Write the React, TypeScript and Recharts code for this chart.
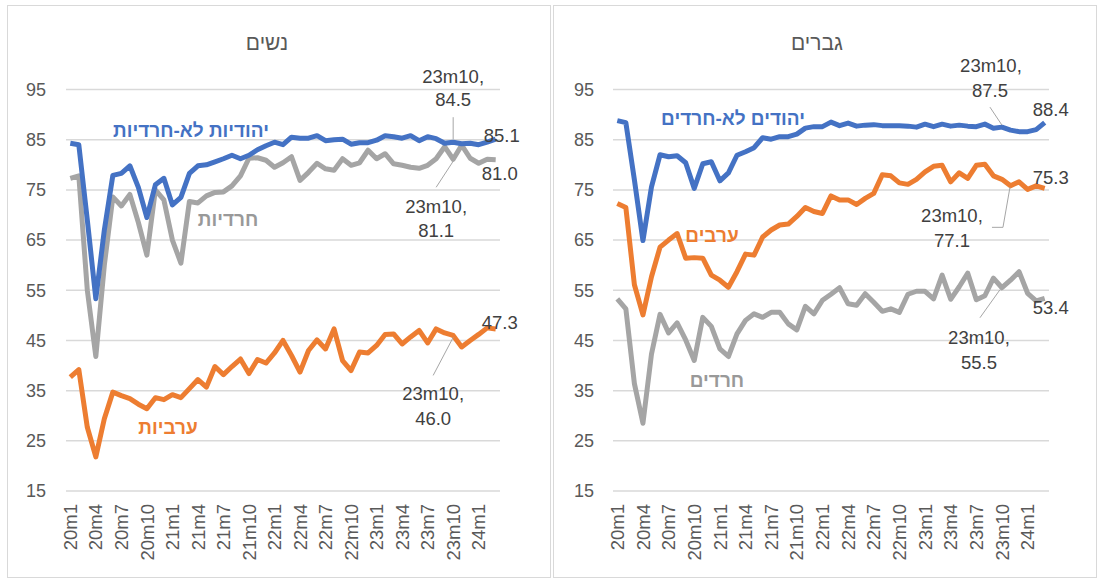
import React from 'react';
import { LineChart, Line, XAxis, YAxis, CartesianGrid, LabelList } from 'recharts';

// monthly categories, 2020m1 .. 2024m3
const categories = [
  '20m1', '20m2', '20m3', '20m4', '20m5', '20m6', '20m7', '20m8', '20m9', '20m10', '20m11', '20m12',
  '21m1', '21m2', '21m3', '21m4', '21m5', '21m6', '21m7', '21m8', '21m9', '21m10', '21m11', '21m12',
  '22m1', '22m2', '22m3', '22m4', '22m5', '22m6', '22m7', '22m8', '22m9', '22m10', '22m11', '22m12',
  '23m1', '23m2', '23m3', '23m4', '23m5', '23m6', '23m7', '23m8', '23m9', '23m10', '23m11', '23m12',
  '24m1', '24m2', '24m3'
];

const yTicks = [15, 25, 35, 45, 55, 65, 75, 85, 95];

// women (נשים)
const womenNonHaredi = [
  84.3, 84.0, 69.0, 53.3, 67.0, 77.9, 78.3, 79.8, 75.5, 69.5, 76.0, 77.3, 72.0, 73.5, 78.3, 79.8, 80.0,
  80.6, 81.2, 81.9, 81.2, 81.9, 83.0, 83.8, 84.5, 84.0, 85.5, 85.3, 85.3, 85.8, 84.8, 85.0, 85.1, 84.1,
  84.4, 84.4, 84.9, 85.8, 85.6, 85.3, 85.8, 84.8, 85.6, 85.2, 84.3, 84.5, 84.2, 84.3, 84.0, 84.5, 85.1
];
const womenHaredi = [
  77.3, 77.8, 55.0, 41.8, 60.0, 73.6, 71.8, 74.1, 68.5, 62.0, 75.0, 73.0, 65.0, 60.4, 72.7, 72.4, 73.8,
  74.5, 74.6, 75.8, 77.8, 81.3, 81.4, 80.9, 79.5, 80.4, 81.6, 76.9, 78.5, 80.3, 79.2, 78.9, 81.2, 79.9,
  80.4, 82.9, 81.2, 82.2, 80.2, 79.9, 79.5, 79.3, 79.9, 81.2, 83.6, 81.1, 83.9, 81.3, 80.3, 81.1, 81.0
];
const womenArab = [
  37.7, 39.2, 27.7, 21.8, 29.4, 34.7, 34.0, 33.4, 32.3, 31.4, 33.6, 33.2, 34.2, 33.6, 35.4, 37.2, 35.7,
  39.8, 38.2, 39.8, 41.3, 38.4, 41.2, 40.5, 42.5, 45.0, 42.0, 38.7, 43.0, 45.1, 43.3, 47.3, 41.0, 39.0,
  42.7, 42.5, 44.0, 46.2, 46.3, 44.3, 45.7, 47.0, 44.5, 47.3, 46.5, 46.0, 43.7, 45.0, 46.2, 47.5, 47.3
];

// men (גברים)
const menNonHaredi = [
  88.8, 88.4, 77.0, 64.9, 75.6, 82.0, 81.6, 81.8, 80.4, 75.3, 80.2, 80.6, 76.8, 78.4, 81.9, 82.6, 83.4,
  85.4, 85.1, 85.6, 85.6, 86.1, 87.3, 87.6, 87.6, 88.5, 87.8, 88.3, 87.7, 87.9, 88.0, 87.8, 87.8, 87.8,
  87.7, 87.5, 88.1, 87.6, 88.1, 87.7, 87.9, 87.7, 87.6, 88.1, 87.3, 87.5, 86.9, 86.6, 86.6, 87.0, 88.4
];
const menArab = [
  72.3, 71.5, 56.1, 50.1, 57.7, 63.6, 65.0, 66.3, 61.4, 61.5, 61.4, 58.0, 57.0, 55.6, 58.7, 62.2, 62.0,
  65.6, 67.0, 68.0, 68.2, 69.7, 71.5, 70.7, 70.3, 73.8, 73.0, 73.0, 72.1, 73.3, 74.3, 78.0, 77.8, 76.4,
  76.1, 77.1, 78.6, 79.7, 79.9, 76.6, 78.4, 77.3, 79.9, 80.1, 77.8, 77.1, 75.8, 76.6, 75.1, 75.8, 75.3
];
const menHaredi = [
  53.3, 51.3, 36.4, 28.5, 42.3, 50.2, 46.5, 48.5, 45.1, 41.0, 49.6, 47.8, 43.3, 41.8, 46.3, 49.0, 50.3,
  49.6, 50.6, 50.6, 48.3, 47.1, 51.8, 50.3, 53.0, 54.2, 55.5, 52.3, 52.0, 54.3, 52.6, 50.8, 51.3, 50.6,
  54.2, 54.8, 54.8, 53.3, 58.0, 53.2, 55.7, 58.4, 53.1, 53.9, 57.4, 55.5, 57.0, 58.7, 54.4, 52.9, 53.4
];

const BLUE = '#4472C4';
const ORANGE = '#ED7D31';
const GRAY = '#A5A5A5';
const FONT = '"Liberation Sans", Arial, "DejaVu Sans", sans-serif';
const MARK_INDEX = categories.indexOf('23m10');
const LAST_INDEX = categories.length - 1;

type Note = {
  l1: [number, number];
  l2: [number, number];
  lead: [number, number][];
  end: [number, number];
};

const makeLabel = (note: Note) => (props: any) => {
  const { x, y, value, index } = props;
  if (x == null || y == null) return null;
  const textStyle = { fontSize: 18.5, fill: '#404040', fontFamily: FONT };
  if (index === LAST_INDEX) {
    return (
      <text x={x + note.end[0]} y={y + note.end[1]} textAnchor="middle" dominantBaseline="central" style={textStyle}>
        {Number(value).toFixed(1)}
      </text>
    );
  }
  if (index === MARK_INDEX) {
    const pts = note.lead.map(([dx, dy]) => `${x + dx},${y + dy}`).join(' ');
    return (
      <g>
        <polyline points={pts} fill="none" stroke="#a6a6a6" strokeWidth={1} />
        <text x={x + note.l1[0]} y={y + note.l1[1]} textAnchor="middle" dominantBaseline="central" style={textStyle}>
          {categories[index]},
        </text>
        <text x={x + note.l2[0]} y={y + note.l2[1]} textAnchor="middle" dominantBaseline="central" style={textStyle}>
          {Number(value).toFixed(1)}
        </text>
      </g>
    );
  }
  return null;
};

const XTick = (props: any) => {
  const { x, y, payload } = props;
  return (
    <text
      x={x}
      y={y}
      transform={`rotate(-90, ${x}, ${y})`}
      textAnchor="end"
      dy="0.36em"
      style={{ fontSize: 18.5, fill: '#595959', fontFamily: FONT }}
    >
      {payload.value}
    </text>
  );
};

type SeriesDef = {
  key: string;
  values: number[];
  color: string;
  note: Note;
};

type PanelProps = {
  left: number;
  width: number;
  axisWidth: number;
  tickMargin: number;
  rightMargin: number;
  series: SeriesDef[];
};

const Panel: React.FC<PanelProps> = ({ left, width, axisWidth, tickMargin, rightMargin, series }) => {
  const rows = categories.map((cat, i) => {
    const row: Record<string, any> = { cat };
    series.forEach(s => { row[s.key] = s.values[i]; });
    return row;
  });

  return (
    <div style={{ position: 'absolute', left, top: 0 }}>
      <LineChart width={width} height={581} data={rows} margin={{ top: 89.5, right: rightMargin, bottom: 0, left: 0 }}>
        <CartesianGrid vertical={false} stroke="#d9d9d9" strokeWidth={1.5} />
        <XAxis
          dataKey="cat"
          interval={2}
          tick={<XTick />}
          tickLine={false}
          axisLine={false}
          tickSize={0}
          tickMargin={13}
          height={90}
          padding={{ left: 4.3, right: 4.3 }}
        />
        <YAxis
          domain={[15, 95]}
          ticks={yTicks}
          width={axisWidth}
          tickLine={false}
          axisLine={false}
          tickSize={0}
          tickMargin={tickMargin}
          tick={{ fontSize: 18, fill: '#595959', fontFamily: FONT }}
        />
        {series.map(s => (
          <Line
            key={s.key}
            type="linear"
            dataKey={s.key}
            stroke={s.color}
            strokeWidth={5}
            strokeLinejoin="round"
            dot={false}
            isAnimationActive={false}
          >
            <LabelList dataKey={s.key} content={makeLabel(s.note)} />
          </Line>
        ))}
      </LineChart>
    </div>
  );
};

const Tag: React.FC<{ x: number; y: number; color: string; size?: number; bold?: boolean; children: React.ReactNode }> = ({
  x, y, color, size = 19, bold = true, children
}) => (
  <div
    dir="rtl"
    style={{
      position: 'absolute',
      left: x,
      top: y,
      transform: 'translate(-50%, -50%)',
      whiteSpace: 'nowrap',
      color,
      fontSize: size,
      fontWeight: bold ? 700 : 400,
      fontFamily: FONT,
      lineHeight: 1
    }}
  >
    {children}
  </div>
);

const frame = (left: number, width: number): React.CSSProperties => ({
  position: 'absolute',
  left,
  top: 5,
  width,
  height: 573,
  border: '1.5px solid #d9d9d9',
  boxSizing: 'border-box'
});

export default function App() {
  const women: SeriesDef[] = [
    { key: 'haredi', values: womenHaredi, color: GRAY, note: { l1: [-17, 47], l2: [-17, 71], lead: [[-17, 28], [0, 2]], end: [4, 14] } },
    { key: 'arab', values: womenArab, color: ORANGE, note: { l1: [-20, 58], l2: [-20, 83], lead: [[-20, 40], [0, 2]], end: [4, -6] } },
    { key: 'nonHaredi', values: womenNonHaredi, color: BLUE, note: { l1: [0, -66], l2: [0, -43], lead: [[0, -25], [0, -3]], end: [6, -4] } }
  ];
  const men: SeriesDef[] = [
    { key: 'haredi', values: menHaredi, color: GRAY, note: { l1: [-23, 50], l2: [-23, 75], lead: [[-22, 30], [-2, 2]], end: [6, 9] } },
    { key: 'arab', values: menArab, color: ORANGE, note: { l1: [-50, 36], l2: [-50, 61], lead: [[-10, 48], [1, 48], [8, 8]], end: [6, -11] } },
    { key: 'nonHaredi', values: menNonHaredi, color: BLUE, note: { l1: [-11, -62], l2: [-12, -37], lead: [[-12, -20], [0, -2]], end: [6, -13] } }
  ];

  return (
    <div style={{ position: 'absolute', left: 0, top: 0, width: 1099, height: 581, background: '#fff', overflow: 'hidden' }}>
      <div style={frame(7, 544)} />
      <div style={frame(553, 544)} />
      <Panel left={0} width={548} axisWidth={66} tickMargin={20} rightMargin={48} series={women} />
      <Panel left={550} width={549} axisWidth={63} tickMargin={19} rightMargin={50} series={men} />

      <Tag x={267} y={42} color="#595959" size={21} bold={false}>נשים</Tag>
      <Tag x={817} y={42} color="#595959" size={21} bold={false}>גברים</Tag>

      <Tag x={191} y={130} color={BLUE}>יהודיות לא-חרדיות</Tag>
      <Tag x={228} y={219} color="#999999">חרדיות</Tag>
      <Tag x={168} y={427} color={ORANGE}>ערביות</Tag>

      <Tag x={733} y={118} color={BLUE}>יהודים לא-חרדים</Tag>
      <Tag x={712} y={235} color={ORANGE}>ערבים</Tag>
      <Tag x={717} y={380} color="#999999">חרדים</Tag>
    </div>
  );
}
